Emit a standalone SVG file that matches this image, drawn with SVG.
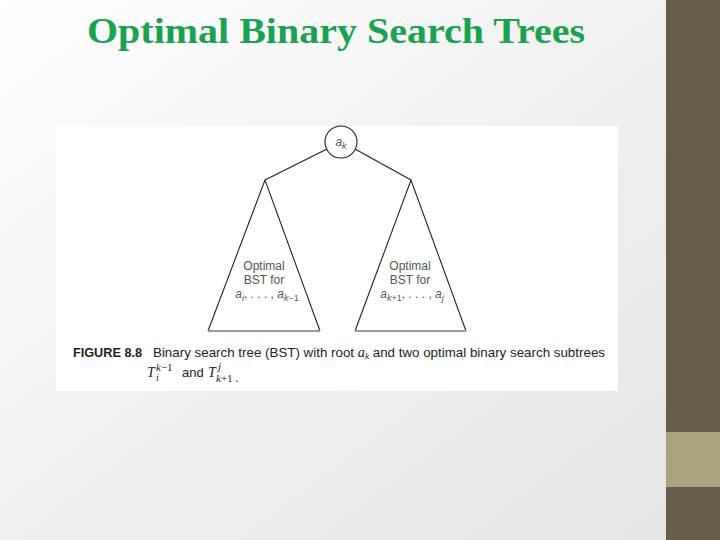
<svg xmlns="http://www.w3.org/2000/svg" width="720" height="540" viewBox="0 0 720 540">
  <defs>
    <linearGradient id="bg" x1="0" y1="0" x2="1" y2="1">
      <stop offset="0" stop-color="#ffffff"/>
      <stop offset="0.5" stop-color="#f0f0f0"/>
      <stop offset="1" stop-color="#e4e4e4"/>
    </linearGradient>
    <style>
      .edge { stroke: #222; stroke-width: 1.1; fill: none; }
      .base { stroke: #9a9a9a; stroke-width: 2; }
      .lbl { font-family: "Liberation Sans", Arial, sans-serif; font-size: 12px; fill: #555; text-anchor: middle; }
      .cap { font-family: "Liberation Sans", Arial, sans-serif; font-size: 13px; fill: #222; }
      .math { font-family: "Liberation Serif", "Times New Roman", serif; font-style: italic; fill: #222; }
    </style>
  </defs>

  <rect x="0" y="0" width="720" height="540" fill="url(#bg)"/>
  <rect x="666" y="0" width="54" height="540" fill="#665e48"/>
  <rect x="666" y="432" width="54" height="55" fill="#a8a57e"/>

  <text x="87" y="43" font-family="Liberation Serif, 'Times New Roman', serif" font-weight="bold" font-size="36" fill="#1aa152" textLength="498" lengthAdjust="spacingAndGlyphs">Optimal Binary Search Trees</text>

  <rect x="56" y="126" width="562" height="265" fill="#ffffff"/>

  <g id="connectors">
    <line class="edge" x1="327" y1="149" x2="265" y2="180"/>
    <line class="edge" x1="355" y1="149" x2="411" y2="180"/>
  </g>

  <g id="root">
    <circle cx="341" cy="142" r="16" fill="#fff" stroke="#222" stroke-width="1.1"/>
    <text class="lbl" x="341" y="146"><tspan font-style="italic">a</tspan><tspan font-style="italic" font-size="9" dy="3">k</tspan></text>
  </g>

  <g id="left-subtree">
    <polyline class="edge" points="208,331 265,180 320,331"/>
    <line class="base" x1="208" y1="331" x2="320" y2="331"/>
    <text class="lbl" x="264" y="270">Optimal</text>
    <text class="lbl" x="264" y="284">BST for</text>
    <text class="lbl" x="267" y="298"><tspan font-style="italic">a</tspan><tspan font-style="italic" font-size="9" dy="3">i</tspan><tspan dy="-3">, . . . , </tspan><tspan font-style="italic">a</tspan><tspan font-style="italic" font-size="9" dy="3">k</tspan><tspan font-size="9">−1</tspan></text>
  </g>

  <g id="right-subtree">
    <polyline class="edge" points="355,331 411,180 466,331"/>
    <line class="base" x1="355" y1="331" x2="466" y2="331"/>
    <text class="lbl" x="410" y="270">Optimal</text>
    <text class="lbl" x="410" y="284">BST for</text>
    <text class="lbl" x="412" y="298"><tspan font-style="italic">a</tspan><tspan font-style="italic" font-size="9" dy="3">k</tspan><tspan font-size="9">+1</tspan><tspan dy="-3">, . . . , </tspan><tspan font-style="italic">a</tspan><tspan font-style="italic" font-size="9" dy="3">j</tspan></text>
  </g>

  <g id="caption">
    <text class="cap" x="73" y="357" font-weight="bold" textLength="69" lengthAdjust="spacingAndGlyphs">FIGURE 8.8</text>
    <text class="cap" x="153" y="357" textLength="452" lengthAdjust="spacingAndGlyphs">Binary search tree (BST) with root <tspan class="math" font-size="14">a</tspan><tspan class="math" font-size="9" dy="2">k</tspan><tspan dy="-2"> and two optimal binary search subtrees</tspan></text>
    <text class="math" x="147" y="377" font-size="14">T</text>
    <text class="math" x="156" y="371" font-size="11">k<tspan font-style="normal">−1</tspan></text>
    <text class="math" x="156" y="381" font-size="10">i</text>
    <text class="cap" x="182" y="377">and</text>
    <text class="math" x="208" y="377" font-size="14">T</text>
    <text class="math" x="218" y="370" font-size="11">j</text>
    <text class="math" x="216" y="382" font-size="11">k<tspan font-style="normal">+1</tspan></text>
    <text class="cap" x="235" y="382">.</text>
  </g>
</svg>
